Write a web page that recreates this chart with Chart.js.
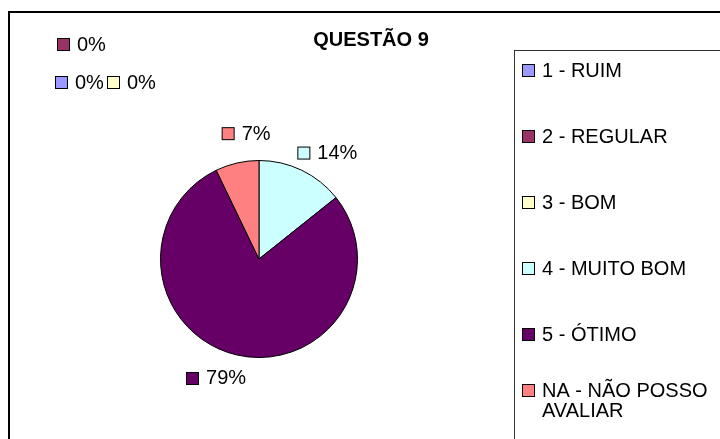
<!DOCTYPE html>
<html>
<head>
<meta charset="utf-8">
<script src="https://cdn.jsdelivr.net/npm/chart.js@4.4.1/dist/chart.umd.min.js"></script>
<style>
  body { margin: 0; background: #fff; }
  canvas { display: block; }
</style>
</head>
<body>
<canvas id="pizza" width="720" height="439"></canvas>
<script>
// dados da questão 9
const titulo = 'QUESTÃO 9';
const categorias = ['1 - RUIM', '2 - REGULAR', '3 - BOM', '4 - MUITO BOM', '5 - ÓTIMO', 'NA - NÃO POSSO AVALIAR'];
const respostas = [0, 0, 0, 2, 11, 1];
const cores = ['#9999FF', '#993366', '#FFFFCC', '#CCFFFF', '#660066', '#FF8080'];

const fonte = '"Liberation Sans", Arial, sans-serif';
const total = respostas.reduce((a, b) => a + b, 0);
const porcentagens = respostas.map(v => Math.round(v / total * 100) + '%');

// lugares dos rótulos de fatias vazias (o Excel empilha eles no canto)
const lugaresVazios = [{x: 55, y: 82}, {x: 57, y: 44}, {x: 107, y: 82}];

function desenhaMarcador(ctx, x, cy, cor) {
    ctx.fillStyle = cor;
    ctx.fillRect(x + 0.5, cy - 5.5, 12, 12);
    ctx.strokeStyle = '#000';
    ctx.lineWidth = 1;
    ctx.strokeRect(x + 0.5, cy - 5.5, 12, 12);
}

function quebraTexto(ctx, texto, largura) {
    const palavras = texto.split(' ');
    const linhas = [];
    let atual = '';
    palavras.forEach(p => {
        const teste = atual ? atual + ' ' + p : p;
        if (ctx.measureText(teste).width > largura && atual) {
            linhas.push(atual);
            atual = p;
        } else {
            atual = teste;
        }
    });
    if (atual) linhas.push(atual);
    return linhas;
}

const decoracao = {
    id: 'decoracao',
    afterDraw(chart) {
        const ctx = chart.ctx;
        ctx.save();

        // moldura externa
        ctx.strokeStyle = '#000';
        ctx.lineWidth = 2;
        ctx.strokeRect(9, 12, 730, 450);

        // título
        ctx.fillStyle = '#000';
        ctx.font = 'bold 20px ' + fonte;
        ctx.textAlign = 'center';
        ctx.textBaseline = 'middle';
        ctx.fillText(titulo, 371, 40);

        // legenda
        ctx.lineWidth = 1;
        ctx.strokeStyle = '#333';
        ctx.strokeRect(514.5, 50.5, 230, 420);
        ctx.font = '20px ' + fonte;
        ctx.textAlign = 'left';
        categorias.forEach((cat, i) => {
            const cy = 70 + i * 66;
            const linhas = quebraTexto(ctx, cat, 172);
            const topo = cy - (linhas.length - 1) * 10;
            desenhaMarcador(ctx, 522, topo, cores[i]);
            ctx.fillStyle = '#000';
            linhas.forEach((l, k) => ctx.fillText(l, 542, topo + k * 20 + 1));
        });

        // rótulos de porcentagem (um pouco girados no sentido horário, como no Excel)
        const arcos = chart.getDatasetMeta(0).data;
        const giro = 7 * Math.PI / 180;
        let vazio = 0;
        arcos.forEach((arco, i) => {
            const texto = porcentagens[i];
            const larg = 20 + ctx.measureText(texto).width;
            let x, cy;
            if (respostas[i] === 0) {
                const lugar = lugaresVazios[vazio++];
                x = lugar.x;
                cy = lugar.y;
            } else {
                const meio = (arco.startAngle + arco.endAngle) / 2 + giro;
                const r = arco.outerRadius + 28;
                const cx = arco.x + Math.cos(meio) * r;
                cy = arco.y + Math.sin(meio) * r;
                x = cx - larg / 2;
            }
            desenhaMarcador(ctx, x, cy, cores[i]);
            ctx.fillStyle = '#000';
            ctx.fillText(texto, x + 20, cy + 1);
        });

        ctx.restore();
    }
};

new Chart(document.getElementById('pizza'), {
    type: 'pie',
    data: {
        labels: categorias,
        datasets: [{
            data: respostas,
            backgroundColor: cores,
            borderColor: '#000',
            borderWidth: 1
        }]
    },
    options: {
        responsive: false,
        animation: false,
        devicePixelRatio: 1,
        layout: {
            padding: {left: 160, right: 362, top: 160, bottom: 81}
        },
        plugins: {
            legend: {display: false},
            tooltip: {enabled: false},
            title: {display: false}
        }
    },
    plugins: [decoracao]
});
</script>
</body>
</html>
